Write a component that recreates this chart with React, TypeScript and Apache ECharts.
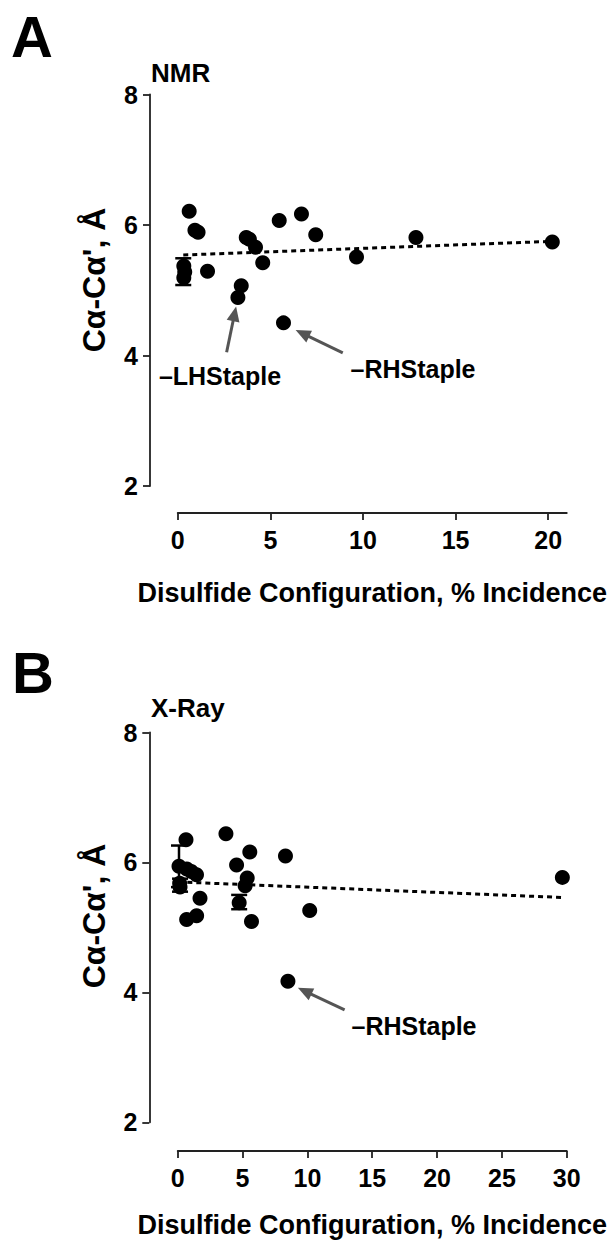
import React, { useEffect, useRef } from "react";
import * as echarts from "echarts";

// ---------- data ----------
const nmrX = [0.62, 0.93, 1.1, 1.61, 0.33, 0.38, 0.33, 3.7, 3.87, 4.2, 4.59, 3.43, 3.25, 5.48, 6.68, 7.45, 5.71, 9.65, 12.86, 20.22];
const nmrY = [6.21, 5.92, 5.89, 5.29, 5.37, 5.28, 5.19, 5.81, 5.78, 5.66, 5.42, 5.07, 4.89, 6.07, 6.17, 5.85, 4.5, 5.51, 5.81, 5.74];
const nmrErr = [[0.3, 5.08, 5.49]]; // [x, low, high]
const nmrFit = [[0.3, 5.54], [20.2, 5.75]];

const xrayX = [0.64, 0.1, 0.7, 1.05, 1.45, 0.15, 0.18, 1.72, 0.69, 1.46, 3.72, 5.56, 4.54, 8.31, 5.36, 5.2, 4.74, 5.69, 10.18, 29.66, 8.5];
const xrayY = [6.35, 5.94, 5.9, 5.86, 5.81, 5.68, 5.62, 5.45, 5.12, 5.18, 6.44, 6.16, 5.96, 6.1, 5.76, 5.64, 5.38, 5.09, 5.26, 5.77, 4.17];
const xrayErr = [[0.1, 5.62, 6.26], [0.18, 5.55, 5.75], [4.74, 5.28, 5.5]];
const xrayFit = [[0.05, 5.7], [29.7, 5.46]];

// annotation arrows [x1, y1, x2, y2] (tail -> head), data coordinates
const nmrArrows = [[2.64, 4.05, 3.07, 4.64], [8.91, 4.04, 6.73, 4.34]];
const xrayArrows = [[12.87, 3.73, 9.79, 4.02]];

const xTicksA = [0, 5, 10, 15, 20];
const xTicksB = [0, 5, 10, 15, 20, 25, 30];

const FONT = '"Liberation Sans", Arial, Helvetica, sans-serif';
const AXIS_COLOR = "#222";

function errRender(params: any, api: any) {
  const x = api.value(0);
  const lo = api.coord([x, api.value(1)]);
  const hi = api.coord([x, api.value(2)]);
  const w = 8;
  const st = { stroke: "#000", lineWidth: 2.5 };
  return {
    type: "group",
    children: [
      { type: "line", shape: { x1: hi[0], y1: hi[1], x2: lo[0], y2: lo[1] }, style: st },
      { type: "line", shape: { x1: hi[0] - w, y1: hi[1], x2: hi[0] + w, y2: hi[1] }, style: st },
      { type: "line", shape: { x1: lo[0] - w, y1: lo[1], x2: lo[0] + w, y2: lo[1] }, style: st },
    ],
  };
}

function xAxisCfg(grid: number, max: number, ticks: number[], offset: number, gap: number) {
  return {
    gridIndex: grid,
    type: "value",
    min: 0,
    max,
    interval: 5,
    offset,
    axisLine: { show: true, onZero: false, lineStyle: { color: AXIS_COLOR, width: 1.8 } },
    axisTick: { show: true, length: 7, customValues: ticks, lineStyle: { color: AXIS_COLOR, width: 1.8 } },
    axisLabel: { customValues: ticks, margin: 14, color: "#000", fontSize: 25, fontWeight: "bold", fontFamily: FONT },
    splitLine: { show: false },
    name: "Disulfide Configuration, % Incidence",
    nameLocation: "middle",
    nameGap: gap,
    nameTextStyle: { color: "#000", fontSize: 27, fontWeight: "bold", fontFamily: FONT },
  };
}

function yAxisCfg(grid: number, offset: number) {
  return {
    gridIndex: grid,
    type: "value",
    min: 2,
    max: 8,
    interval: 2,
    offset,
    axisLine: { show: true, onZero: false, lineStyle: { color: AXIS_COLOR, width: 1.8 } },
    axisTick: { show: true, length: 7, lineStyle: { color: AXIS_COLOR, width: 1.8 } },
    axisLabel: { margin: 12, color: "#000", fontSize: 25, fontWeight: "bold", fontFamily: FONT },
    splitLine: { show: false },
  };
}

function arrowMarkLine(arrows: number[][]) {
  return {
    silent: true,
    symbol: ["none", "triangle"],
    symbolSize: [13, 15],
    lineStyle: { color: "#555", width: 3, type: "solid" },
    label: { show: false },
    emphasis: { disabled: true },
    data: arrows.map((a) => [{ coord: [a[0], a[1]] }, { coord: [a[2], a[3]] }]),
  };
}

function text(str: string, x: number, y: number, size: number, align = "left", rotation = 0) {
  return {
    type: "text",
    x,
    y,
    rotation,
    style: {
      text: str,
      fontSize: size,
      fontWeight: "bold",
      fontFamily: FONT,
      fill: "#000",
      align,
      verticalAlign: "middle",
    },
  };
}

export default function App() {
  const ref = useRef<HTMLDivElement>(null);
  useEffect(() => {
    if (!ref.current) return;
    const chart = echarts.init(ref.current, undefined, { renderer: "svg" });
    const option: any = {
      animation: false,
      backgroundColor: "#fff",
      grid: [
        { left: 177.7, top: 94.5, width: 392.3, height: 391.5 },
        { left: 177.7, top: 732.5, width: 390, height: 389.8 },
      ],
      xAxis: [xAxisCfg(0, 21, xTicksA, 27, 66), xAxisCfg(1, 30, xTicksB, 28.7, 60)],
      yAxis: [yAxisCfg(0, 27.7), yAxisCfg(1, 28.4)],
      series: [
        {
          type: "line",
          xAxisIndex: 0,
          yAxisIndex: 0,
          data: nmrFit,
          showSymbol: false,
          symbol: "none",
          lineStyle: { color: "#000", width: 3, type: [5, 4] },
          z: 2,
        },
        {
          type: "scatter",
          xAxisIndex: 0,
          yAxisIndex: 0,
          data: nmrX.map((x, i) => [x, nmrY[i]]),
          symbolSize: 15,
          itemStyle: { color: "#000", opacity: 1 },
          z: 3,
          markLine: arrowMarkLine(nmrArrows),
        },
        {
          type: "custom",
          xAxisIndex: 0,
          yAxisIndex: 0,
          data: nmrErr,
          encode: { x: 0, y: [1, 2] },
          renderItem: errRender,
          z: 4,
        },
        {
          type: "line",
          xAxisIndex: 1,
          yAxisIndex: 1,
          data: xrayFit,
          showSymbol: false,
          symbol: "none",
          lineStyle: { color: "#000", width: 3, type: [5, 4] },
          z: 2,
        },
        {
          type: "scatter",
          xAxisIndex: 1,
          yAxisIndex: 1,
          data: xrayX.map((x, i) => [x, xrayY[i]]),
          symbolSize: 15,
          itemStyle: { color: "#000", opacity: 1 },
          z: 3,
          markLine: arrowMarkLine(xrayArrows),
        },
        {
          type: "custom",
          xAxisIndex: 1,
          yAxisIndex: 1,
          data: xrayErr,
          encode: { x: 0, y: [1, 2] },
          renderItem: errRender,
          z: 4,
        },
      ],
      graphic: [
        text("A", 11, 36, 58),
        text("B", 12, 672, 58),
        text("NMR", 151, 73, 26),
        text("X-Ray", 151, 708, 26),
        text("Cα-Cα', Å", 94, 280, 32, "center", Math.PI / 2),
        text("Cα-Cα', Å", 94, 916, 32, "center", Math.PI / 2),
        text("–LHStaple", 220, 376, 25, "center"),
        text("–RHStaple", 413, 369, 25, "center"),
        text("–RHStaple", 414, 1026, 25, "center"),
      ],
    };
    chart.setOption(option);
    return () => chart.dispose();
  }, []);
  return (
    <div
      ref={ref}
      style={{ position: "fixed", left: 0, top: 0, width: 609, height: 1243, background: "#fff" }}
    />
  );
}
